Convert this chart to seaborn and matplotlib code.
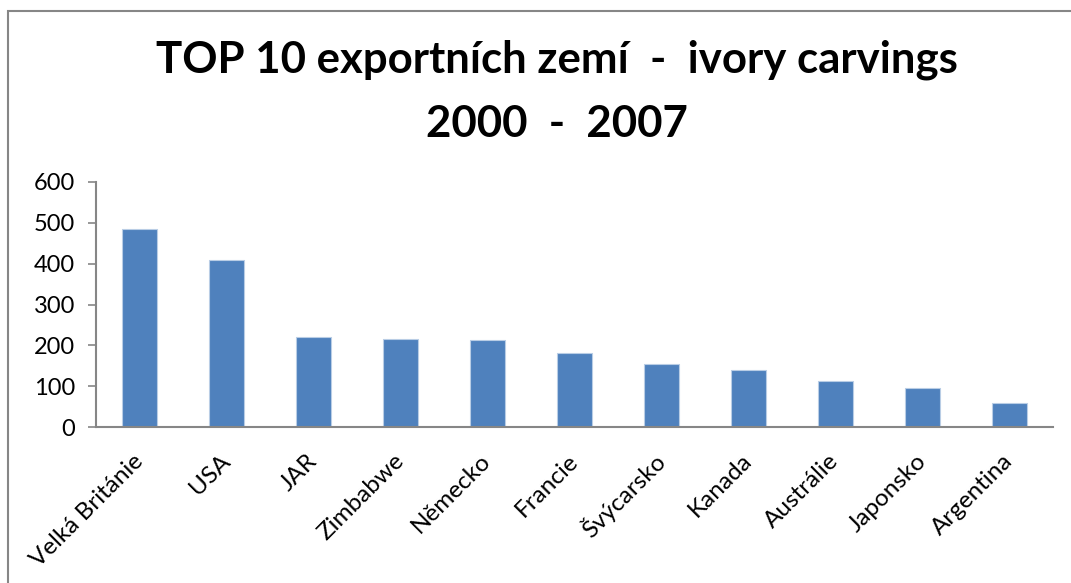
import matplotlib
matplotlib.use("Agg")
import matplotlib.pyplot as plt
import matplotlib.patches as patches
import pandas as pd
import seaborn as sns

countries = ["Velká Británie", "USA", "JAR", "Zimbabwe", "Německo", "Francie",
             "Švýcarsko", "Kanada", "Austrálie", "Japonsko", "Argentina"]
exports = [485, 409, 221, 215, 214, 182, 155, 140, 112, 95, 59]
y_ticks = [0, 100, 200, 300, 400, 500, 600]
title_line1 = "TOP 10 exportních zemí  -  ivory carvings"
title_line2 = "2000  -  2007"

df = pd.DataFrame({"country": countries, "value": exports})

sns.set_style("white")
plt.rcParams["font.family"] = ["Lato", "DejaVu Sans"]
plt.rcParams["text.color"] = "black"
plt.rcParams["xtick.color"] = "black"
plt.rcParams["ytick.color"] = "black"

fig = plt.figure(figsize=(10.71, 5.83), dpi=100)
ax = fig.add_axes([96 / 1071, 156 / 583, 957 / 1071, 245 / 583])

sns.barplot(data=df, x="country", y="value", color="#4F81BD", width=0.4,
            saturation=1, edgecolor="#B9CDE5", linewidth=0.8, ax=ax)

grey = "#868686"
ax.set_xlim(-0.5, len(countries) - 0.5)
ax.set_ylim(0, 600)
ax.set_yticks(y_ticks)
ax.set_xlabel("")
ax.set_ylabel("")
for side in ["top", "right"]:
    ax.spines[side].set_visible(False)
for side in ["left", "bottom"]:
    ax.spines[side].set_color(grey)
    ax.spines[side].set_linewidth(1.5)

# category separators as ticks, labels at centres
ax.set_xticks([i - 0.5 for i in range(len(countries) + 1)], minor=True)
ax.tick_params(axis="x", which="minor", length=7, width=1.2, color=grey, direction="out")
ax.tick_params(axis="x", which="major", length=0, pad=22)
ax.tick_params(axis="y", length=6, width=1.2, color=grey, direction="out", left=True,
               labelsize=17, pad=9)
ax.set_xticks(range(len(countries)))
ax.set_xticklabels(countries, rotation=45, ha="right", va="center",
                   rotation_mode="anchor", fontsize=17.5)

fig.text(557 / 1071, (583 - 73) / 583, title_line1, ha="center", va="baseline",
         fontsize=31.5, fontweight="bold", color="black")
fig.text(557 / 1071, (583 - 137) / 583, title_line2, ha="center", va="baseline",
         fontsize=31.5, fontweight="bold", color="black")

frame = patches.Rectangle((8 / 1071, -0.05), 1.1, (572 / 583) + 0.05,
                          transform=fig.transFigure, fill=False,
                          edgecolor=grey, linewidth=1.5, clip_on=False)
fig.patches.append(frame)

fig.savefig("out.png", dpi=100)
